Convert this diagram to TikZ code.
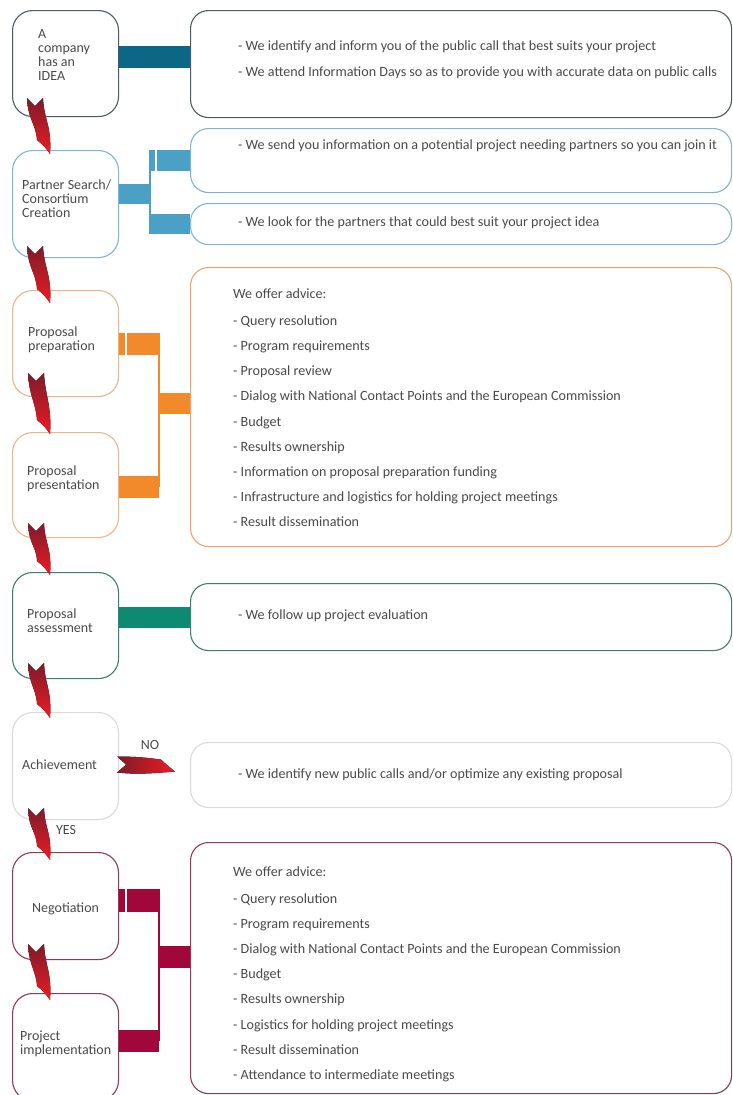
\documentclass[tikz,border=0pt]{standalone}
\usepackage{fontspec}
\setmainfont{Carlito}
\usetikzlibrary{calc}
\definecolor{txt}{HTML}{4A4A4A}
\definecolor{idealine}{HTML}{4E5A62}
\definecolor{ideabar}{HTML}{0C6686}
\definecolor{blueline}{HTML}{7DB6D2}
\definecolor{bluebar}{HTML}{4BA0C6}
\definecolor{orline}{HTML}{E9B68A}
\definecolor{orrline}{HTML}{EAA466}
\definecolor{orbar}{HTML}{F28A2C}
\definecolor{tealline}{HTML}{3E7E70}
\definecolor{tealbar}{HTML}{0E8A72}
\definecolor{greyline}{HTML}{DADADA}
\definecolor{marline}{HTML}{8C3A56}
\definecolor{marbar}{HTML}{A2073C}
\definecolor{arrdark}{HTML}{7E1A2A}
\definecolor{arrred}{HTML}{EC1C24}
\newcommand\vflow[2]{%
 \fill[top color=arrdark,bottom color=arrred] let \p1=(#1), \p2=(#2) in
 (\x1-8pt,\y1) -- (\x1,\y1-8pt) -- (\x1+8pt,\y1)
 .. controls (\x1+9pt,\y1-22pt) and (\x2+2pt,\y2+28pt) .. (\x2,\y2)
 .. controls (\x2-3pt,\y2+5pt) and (\x2-8pt,\y2+10pt) .. (\x2-13pt,\y2+14pt)
 .. controls (\x2-14pt,\y2+30pt) and (\x1-7pt,\y1-22pt) .. cycle;}
\newcommand\hflow[2]{%
 \fill[left color=arrdark,right color=arrred] let \p1=(#1), \p2=(#2) in
 (\x1,\y1+8pt) -- (\x1+9pt,\y1) -- (\x1,\y1-8pt)
 .. controls (\x1+20pt,\y1-10pt) and (\x2-25pt,\y2-2pt) .. (\x2,\y2)
 .. controls (\x2-5pt,\y2+4pt) and (\x2-10pt,\y2+8pt) .. (\x2-14pt,\y2+12pt)
 .. controls (\x2-30pt,\y2+14pt) and (\x1+20pt,\y1+8pt) .. cycle;}
\begin{document}
\begin{tikzpicture}[x=1pt,y=-1pt,
  lbox/.style={draw, line width=1.1pt, rounded corners=20pt, minimum width=106pt, anchor=north west, inner sep=0pt, fill=white},
  rbox/.style={draw, line width=1.1pt, rounded corners=18pt, minimum width=541pt, anchor=north west, inner sep=0pt, fill=white},
  ltext/.style={font=\fontsize{14}{14}\selectfont, text=txt, align=left, anchor=west, inner sep=0pt},
  rtext/.style={font=\fontsize{14.1}{26}\selectfont, text=txt, align=left, anchor=west, inner sep=0pt},
  lsttext/.style={font=\fontsize{14.1}{25.2}\selectfont, text=txt, align=left, anchor=west, inner sep=0pt},
  barline/.style={line width=#1}]
\useasboundingbox (0,0) rectangle (733,1095);
\clip (0,0) rectangle (733,1095);
\fill[white] (0,0) rectangle (733,1095);
% left boxes
\node[lbox, draw=idealine, minimum height=106pt] (idea) at (12,10) {};
\node[lbox, draw=blueline, minimum height=107pt] (partner) at (12,150) {};
\node[lbox, draw=orline, minimum height=106pt] (prep) at (12,290) {};
\node[lbox, draw=orline, minimum height=105pt] (pres) at (12,432) {};
\node[lbox, draw=tealline, minimum height=106pt] (assess) at (12,572) {};
\node[lbox, draw=greyline, minimum height=107pt] (achieve) at (12,712) {};
\node[lbox, draw=marline, minimum height=107pt] (nego) at (12,852) {};
\node[lbox, draw=marline, minimum height=107pt] (impl) at (12,993) {};
% right boxes
\node[rbox, draw=idealine, minimum height=107pt] (r1) at (190,10) {};
\node[rbox, draw=blueline, minimum height=64pt] (r2a) at (190,128) {};
\node[rbox, draw=blueline, minimum height=41pt] (r2b) at (190,203) {};
\node[rbox, draw=orrline, minimum height=279pt] (r3) at (190,267) {};
\node[rbox, draw=tealline, minimum height=67pt] (r5) at (190,583) {};
\node[rbox, draw=greyline, minimum height=65pt] (r6) at (190,742) {};
\node[rbox, draw=marline, minimum height=251pt] (r8) at (190,842) {};
% left texts
\node[ltext] (t-idea) at ($(idea.west)+(26,-9)$) {A\\company\\has an\\IDEA};
\node[ltext] (t-partner) at ($(partner.west)+(10,-5.5)$) {Partner Search/\\Consortium\\Creation};
\node[ltext] (t-prep) at ($(prep.west)+(16,-4)$) {Proposal\\preparation};
\node[ltext] (t-pres) at ($(pres.west)+(15,-6)$) {Proposal\\presentation};
\node[ltext] (t-assess) at ($(assess.west)+(15,-4.5)$) {Proposal\\assessment};
\node[ltext] (t-achieve) at ($(achieve.west)+(10,-1.5)$) {Achievement};
\node[ltext] (t-nego) at ($(nego.west)+(20,2.5)$) {Negotiation};
\node[ltext, anchor=north west] (t-impl) at ($(impl.north west)+(8,38)$) {Project\\implementation};
% right texts
\node[rtext] (t-r1) at ($(r1.west)+(48,-4.5)$) {- We identify and inform you of the public call that best suits your project\\- We attend Information Days so as to provide you with accurate data on public calls};
\node[rtext] (t-r2a) at ($(r2a.west)+(48,-15)$) {- We send you information on a potential project needing partners so you can join it};
\node[rtext] (t-r2b) at ($(r2b.west)+(48,-1.5)$) {- We look for the partners that could best suit your project idea};
\node[lsttext] (t-r3) at ($(r3.west)+(43,0.5)$) {We offer advice:\\[2pt]- Query resolution\\- Program requirements\\- Proposal review\\- Dialog with National Contact Points and the European Commission\\- Budget\\- Results ownership\\- Information on proposal preparation funding\\- Infrastructure and logistics for holding project meetings\\- Result dissemination};
\node[rtext] (t-r5) at ($(r5.west)+(48,-1.5)$) {- We follow up project evaluation};
\node[rtext] (t-r6) at ($(r6.west)+(48,0)$) {- We identify new public calls and/or optimize any existing proposal};
\node[lsttext] (t-r8) at ($(r8.west)+(43,6.5)$) {We offer advice:\\[1pt]- Query resolution\\- Program requirements\\- Dialog with National Contact Points and the European Commission\\- Budget\\- Results ownership\\- Logistics for holding project meetings\\- Result dissemination\\- Attendance to intermediate meetings};
% connectors: idea
\coordinate (b1) at ($(idea.east)+(0,-7)$);
\draw[barline=22pt, ideabar] (b1) -- (b1 -| r1.west);
% partner
\coordinate (b2) at ($(partner.east)+(0,-10.5)$);
\coordinate (j2) at ($(b2)+(31,0)$);
\draw[barline=20pt, bluebar] (b2) -- (j2);
\draw[barline=1.6pt, bluebar] ($(j2 |- r2a.west)+(0,-10.5)$) -- ($(j2 |- r2b.west)+(0,10)$);
\draw[barline=21pt, bluebar] ($(j2 |- r2a.west)+(-0.8,0)$) -- (r2a.west);
\draw[barline=20pt, bluebar] ($(j2 |- r2b.west)+(-0.8,0)$) -- (r2b.west);
\draw[barline=1.3pt, white] ($(j2 |- r2a.west)+(6,-10.5)$) -- ($(j2 |- r2a.west)+(6,10.5)$);
% proposal prep / pres
\coordinate (j3) at ($(prep.east)+(40,0)$);
\coordinate (b4) at ($(pres.east)+(0,1.5)$);
\coordinate (m3) at ($(r3.west)+(0,-4)$);
\draw[barline=22pt, orbar] (prep.east) -- ($(prep.east -| j3)+(1,0)$);
\draw[barline=22pt, orbar] (b4) -- (b4 -| j3);
\draw[barline=2pt, orbar] (prep.east -| j3) -- (b4 -| j3);
\draw[barline=21pt, orbar] ($(m3 -| j3)+(-1,0)$) -- (m3);
\draw[barline=1.3pt, white] ($(prep.east)+(7,-11)$) -- ($(prep.east)+(7,11)$);
% assessment
\draw[barline=21pt, tealbar] (r5.west -| assess.east) -- (r5.west);
% negotiation / implementation
\coordinate (b7) at ($(nego.east)+(0,-6)$);
\coordinate (j7) at ($(b7)+(40,0)$);
\coordinate (b8) at ($(impl.east)+(0,-6.5)$);
\coordinate (m8) at ($(r8.west)+(0,-11.5)$);
\draw[barline=23pt, marbar] (b7) -- ($(j7)+(1,0)$);
\draw[barline=22pt, marbar] (b8) -- (b8 -| j7);
\draw[barline=2pt, marbar] (j7) -- (b8 -| j7);
\draw[barline=22pt, marbar] ($(m8 -| j7)+(-1,0)$) -- (m8);
\draw[barline=1.3pt, white] ($(b7)+(7,-11.5)$) -- ($(b7)+(7,11.5)$);
% red flow arrows
\coordinate (a1s) at ($(idea.south west)+(23,-19)$);
\coordinate (a1e) at ($(partner.north west)+(38,4)$);
\coordinate (a2s) at ($(partner.south west)+(23,-12)$);
\coordinate (a2e) at ($(prep.north west)+(38,13)$);
\coordinate (a3s) at ($(prep.south west)+(24,-24)$);
\coordinate (a3e) at ($(pres.north west)+(38,2)$);
\coordinate (a4s) at ($(pres.south west)+(24,-15)$);
\coordinate (a4e) at ($(assess.north west)+(38,3)$);
\coordinate (a5s) at ($(assess.south west)+(24,-16)$);
\coordinate (a5e) at ($(achieve.north west)+(38,6)$);
\coordinate (a6s) at ($(achieve.south west)+(24,-12)$);
\coordinate (a6e) at ($(nego.north west)+(38,8)$);
\coordinate (a7s) at ($(nego.south west)+(24,-16)$);
\coordinate (a7e) at ($(impl.north west)+(38,7)$);
\coordinate (hs) at ($(achieve.east)+(-2,-1.5)$);
\coordinate (he) at ($(r6.west)+(-15,-3.5)$);
\vflow{a1s}{a1e}
\vflow{a2s}{a2e}
\vflow{a3s}{a3e}
\vflow{a4s}{a4e}
\vflow{a5s}{a5e}
\vflow{a6s}{a6e}
\vflow{a7s}{a7e}
\hflow{hs}{he}
\node[ltext, anchor=center] (no) at (150,745) {NO};
\node[ltext, anchor=center] (yes) at (66,830) {YES};
\end{tikzpicture}
\end{document}
